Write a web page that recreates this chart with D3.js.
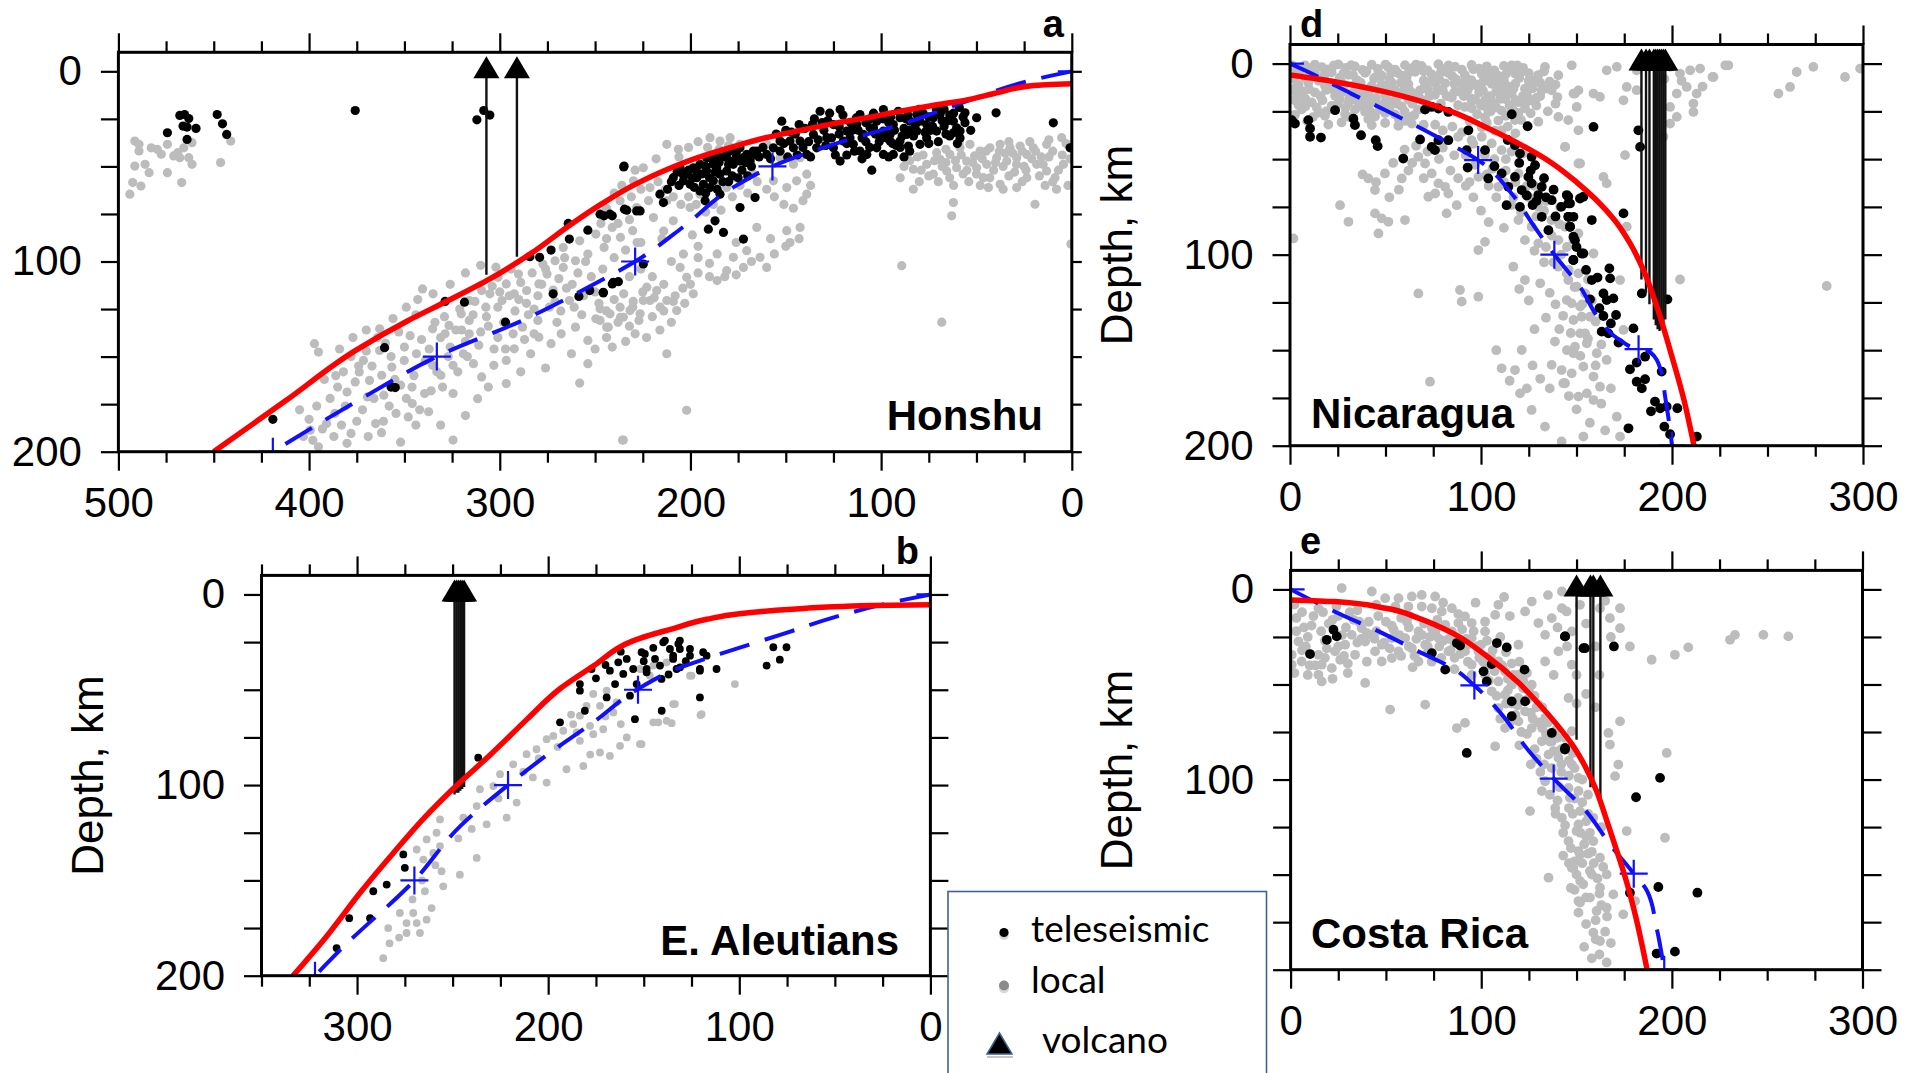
<!DOCTYPE html>
<html>
<head>
<meta charset="utf-8">
<script src="https://cdn.jsdelivr.net/npm/d3@7"></script>
<style>
  body { margin: 0; background: #fff; }
  svg { display: block; }
</style>
</head>
<body>
<svg id="fig" width="1907" height="1073"></svg>
<script>
// ---- data: [distance km, depth km] ----
// a: Honshu
const honshuSlab = [[0,6.6],[20,7.5],[38,11],[55,15],[73,18],[90,21],[108,24.5],[125,27.5],[142,31],[160,34.8],[177,39.5],[195,45],[212,51.5],[230,60],[247,70],[262,80],[284,96],[305,109],[327,120.5],[348,131],[376,147],[412,173],[450,200]]
const honshuModel = [[0,0],[20,4.4],[55,15.7],[90,28],[125,38.4],[157,50],[177.5,61],[204,82],[229,100],[247,110],[262,118],[286,130],[333,150],[369,170],[419,200]]
const honshuMarks = [[0,0],[157,50],[229,100],[333,150],[419,200]]
const honshuVolc = [[307,107],[291,97.5]]
const honshuLocal = [[491.4,36.7],[489.2,41.9],[482.8,40.2],[479.6,41],[477.5,43.6],[474.3,38.4],[471,44.5],[467.8,45.4],[465.7,40.2],[463.1,45.4],[461.4,48.9],[491.4,49.8],[486,48.9],[483.9,53.3],[474.3,53.3],[488.2,60.3],[492.5,58.5],[494,64.6],[466.8,58.5],[446.4,48],[441.1,36.7],[461.4,37.5],[489.2,38.4],[468.9,42.8],
  [340.5,114.4],[397.2,143.2],[395.1,147.6],[363,135.4],[373.7,158.1],[368.3,162.5],[361.9,159.8],[369.4,171.2],[360.8,170.3],[354.4,179.9],[345.9,174.7],[337.3,179],[348,181.7],[324.5,169.4],[311.6,172.1],[324.5,193.9],[335.2,154.6],[330.9,159.8],[324.5,154.6],[319.1,148.5],[313.8,153.7],[309.5,160.7],[303.1,154.6],[296.6,164.2],[292.4,145.9],[283.8,148.5],[279.5,139.8],[273.1,143.2],[267.8,138],[262.4,148.5],[258.1,163.9],[253.8,141.5],[243.1,134.5],[236.7,129.3],[230.3,124],[241,145],[288.1,134.5],[298.8,120.5],[305.2,117],[307.3,124],[296.6,111.8],[290.2,106.6],[285.9,115.3],[292.4,117],[279.5,111.8],[275.2,106.6],[266.7,103.1],[260.3,99.6],[253.8,96.1],[245.3,92.6],[236.7,87.3],[230.3,83.8],[241,82.1],[249.6,85.6],[258.1,89.1],[266.7,92.6],[271,99.6],[277.4,101.3],[300.9,108.3],[309.5,115.3],[315.9,120.5],[320.2,127.5],[326.6,133.6],[335.2,135.4],[328.7,138],[343.7,148.5],[350.1,152],[356.6,155.5],[363,146.8],[371.5,152],[375.8,163.3],[380.1,168.6],[386.5,179.9],[390.8,185.2],[378,190.4],[395.1,197.4],[380.1,195.6],[399.4,188.7],[365.1,185.2],[339.4,169.4],[296.6,152],[253.8,153.7],[235.6,193.9],[260.3,134.5],[249.6,130.1],[263.5,120.5],[247.4,124.9],[282,125],[271,121],[287,141],[301,140],[316,138],[345,160],[352,165],[386,160],[405,178],
  [255,100],[259,106],[262,112],[266,98],[269,109],[272,115],[276,104],[280,118],[283,106],[286,122],[289,111],[292,126],[295,118],[298,132],[301,124],[304,113],[307,129],[310,137],[313,121],[316,131],[318,142],[321,125],[323,136],[326,145],[329,129],[331,140],[334,132],[337,146],[341,141],[344,128],[347,139],[350,145],[353,137],[357,150],[360,143],[364,140],[367,155],[370,147],[374,155],[378,150],[382,158],[385,166],[389,172],[392,162],[396,176],[400,183],[403,192],[383,186],[372,178],[362,190],[352,195],[344,186],[331,186],[318,181],[306,166],[289,158],[276,156],[268,126],[250,116],[246,104],[240,98],[234,94],[228,90],[244,140],[250,146],[257,128],[280,131],[294,104],[302,103],
  [252,108],[256,118],[261,124],[265,114],[270,132],[274,124],[278,112],[282,138],[285,128],[290,120],[293,138],[297,146],[300,116],[303,146],[306,134],[311,144],[314,128],[317,150],[320,136],[322,158],[327,150],[330,166],[333,158],[336,168],[339,152],[342,178],[346,166],[349,172],[355,162],[358,176],[361,184],[366,172],[369,192],[375,184],[381,176],[387,192],[393,188],[398,194],[384,146],[377,140],[370,136],[356,130],[349,124],[343,120],[335,117],[326,112],[318,106],[310,102],[232,108],[226,104],[220,108],[214,112],[208,118],[203,122],[210,132],[216,136],[223,140],[229,138],[234,142],[210,100],[196,98],[190,101],[182,108],[176,107],[168,100],[156,96],[150,92],[143,88],[158,88],
  [212.4,38.4],[206.3,41],[189.7,34.9],[184.5,36.7],[179.2,34.9],[174,38.4],[224.7,50.7],[229.9,57.6],[221.2,61.1],[236.9,68.1],[228.2,71.6],[212.4,68.1],[209,78.6],[219.4,76.9],[200.2,71.6],[195,64.6],[186.2,61.1],[181,61.1],[177.5,55.9],[167,54.1],[156.5,57.6],[149.5,61.1],[144.3,57.6],[139,64.6],[165.2,82.1],[149.5,83.8],[142.5,82.1],[147.8,90],[177.5,97.8],[170.5,94.3],[163.5,97.8],[160,103.1],[172.2,103.1],[181,104.8],[203.7,96.1],[205.4,103.1],[202,108.3],[198.5,117],[207.2,125.8],[212.4,120.5],[217.7,115.3],[222.9,113.5],[215.9,124],[221.2,120.5],[226.4,127.5],[231.7,125.8],[236.9,124],[242.2,127.5],[247.4,131],[243.9,134.5],[235.2,129.3],[224.7,120.5],[212.4,148.5],[202,178.2],[235.2,193.9],[89.2,102.2],[68.2,131.9],[63,76],[62.1,69],[0.5,90.8],[160,38.4],[153,45.4],[146,48.9],[142.5,45.4],[139,54.1],[168.7,47.2],[215,88],[226,90],[199,86],
  [240,64],[236,60],[231,66],[226,62],[222,68],[217,58],[213,62],[209,66],[205,70],[201,66],[197,70],[192,74],[188,70],[184,73],[178,66],[174,60],[170,64],[165,58],[160,62],[156,66],[151,70],[146,72],[141,68],[137,60],[244,72],[238,80],[232,78],[214,84],[196,92],[186,96],[176,90],[206,45],[201,40],[196,37],[191,40],[185,41],[180,39],[218,46],[229,52],[247,80],[244,88],
  [240,120],[235,117],[230,121],[225,116],[219,119],[214,126],[209,121],[204,114],[238,132],[232,134],[227,131],[220,129],[244,126],[248,122],[200,112],[196,106],[190,108],[186,110],
  [83.1,51.5],[76.1,48.9],[69.1,46.3],[63.9,43.7],[58.6,40.2],[53.4,38.4],[48.1,41.9],[42.9,40.2],[37.6,38.4],[32.4,40.2],[27.1,39.3],[20.2,40.2],[13.2,38.4],[5.3,34.9],[72.6,54.1],[65.6,52.4],[60.4,50.7],[55.1,47.2],[49.9,50.7],[44.6,48.9],[39.4,45.4],[34.1,47.2],[28.9,45.4],[23.6,43.7],[18.4,48.9],[13.2,52.4],[8.8,55.9],[4.4,48.9],[46.4,55.9],[37.6,59.4],[28.9,61.1],[19.3,69.9],[83.1,62],[70.9,42.8],[43.7,61.1],[23.6,55.9],[78,44],[51,44.5],[35,43],[25,50],[16,45],[10,42],[30,53],[57,54],[66,48],[41,52],[8,62],[2,60],
  [88,50],[85,47],[81,45],[79,52],[75,55],[72,47],[68,50],[64,56],[61,47],[58,44],[55,52],[52,48],[50,54],[47,46],[45,42],[43,56],[40,48],[38,42],[36,50],[33,55],[31,43],[29,49],[26,42],[24,52],[21,46],[19,42],[17,55],[15,49],[12,45],[10,58],[7,52],[5,44],[3,38],[1,46],[62,60],[54,58],[48,60],[36,62],[26,58],[14,60],[70,58],[80,58],[90,56],[33,37],[22,37],[12,36],[59,37],[66,41]]
const honshuTele = [[474.3,32.3],[467.8,23.2],[465.3,22.7],[463.1,24.8],[466.1,28.8],[464,29.3],[459.3,30],[464,35.8],[448.2,22.7],[445.4,27.6],[443.2,33.2],[375.8,20.6],[312,25.5],[308.4,20.6],[305.2,23],[235,50.3],[264.1,80],[253.8,83.5],[263.5,88.2],[273.1,94],[284.2,97.5],[279.1,97.8],[245.3,76],[241,76],[234.6,72.5],[228.2,73.4],[237.8,110.6],[241,111.8],[245.7,116.5],[252.8,115.3],[258.5,118.4],[272,117],[318.5,121.4],[328.7,121],[297,131.9],[360.4,145.3],[357,166],[354.8,166.3],[419,183],
  [132,21],[121.5,20.1],[111.1,22.7],[98.8,20.1],[56,21.8],[49.9,24.4],[39.7,21.8],[9.7,27.1],[0.9,40.2],[104.9,52],[98.8,43.7],[85.7,39.3],[62.1,32.3],[58.6,35],[125,28],[118,31.4],[128.5,34.9],[133.8,40.2],[139,43.7],[125,40.2],[121.5,47.2],[114.6,38.4],[109.3,33.2],[104,29.7],[98.8,31.4],[93.6,28],[90.1,24.4],[84.8,26.2],[81.3,31.4],[76.1,28],[72.6,24.4],[69.1,22.7],[65.6,26.2],[70.9,31.4],[76.1,35],[79.6,38.4],[90.1,36.7],[95.3,36.7],[102.3,40.2],[107.5,43.7],[111.1,41.9],[93.6,43.7],[86.6,33.2],[81.3,22.7],[62.1,26.2],[60.4,29.7],[58.6,31.4],[79.6,26.2],[95.3,33.2],[102.3,26.2],[105.8,29.7],[112.8,28],[116.3,35],[119.8,36.7],[135.5,33.2],[142.5,36.7],[146,40.2],[152.1,26.2],[147.8,36.7],[153,36.7],[156.5,40.2],[160,43.7],[166.1,66.4],[174,71.6],[184.5,64.6],[192.3,68.1],[190.6,83],[187.1,78.6],[182.7,84.7],[172.2,88.2],
  [205.4,50.7],[202,54.1],[198.5,50.7],[195,48.9],[191.5,45.4],[188,48.9],[184.5,45.4],[181,43.7],[177.5,41.9],[174,40.2],[170.5,43.7],[167,41.9],[168.7,47.2],[174,47.2],[177.5,48.9],[181,52.4],[184.5,54.1],[188,57.6],[193.2,59.4],[196.7,55.9],[200.2,59.4],[203.7,57.6],[191.5,52.4],[186.2,50.7],[179.2,47.2],[172.2,45.4],[195,62.9],[189.7,61.1],[209,55.9],[216,64.6],[214.2,69],[234.8,49.8],[226.4,73.4],[233.4,73],[242.2,75.1],[247.4,75.1],[245.7,116.2],[240.4,110.9],[224.7,101.3],[165.2,41.9],
  [100,35],[88,30],[83,34],[74,31],[67,29],[92,39],[108,37],[115,31],[122,33],[130,31],[136,28],[113,24.5],[106,25],[95,24],[86,23],[78,22],[67,20],[62,22],[56,27],[53,31],[128,26],[140,30],[145,33],[150,31],
  [57,24],[59,19],[64,23],[66,33],[68,26],[71,20],[73,29],[75,24],[77,32],[80,20],[82,28],[85,31],[87,25],[89,34],[91,21],[93,31],[94,38],[96,27],[97,35],[99,25],[101,37],[103,33],[104,22],[106,40],[108,27],[110,35],[112,31],[114,42],[116,27],[118,38],[120,23],[122,29],[124,44],[126,35],[127,22],[129,39],[131,27],[133,36],[135,25],[137,45],[138,37],[141,40],[143,28],[144,44],[147,32],[149,45],[151,38],[153,42],[155,33],[158,46],[162,40],[164,45],[85,42],[90,40],[75,38],[70,37],[64,34],[60,38],[88,45],[96,45],[110,46],[118,44],
  [166,44],[168,50],[171,48],[173,52],[176,45],[178,55],[180,49],[183,58],[185,48],[187,53],[189,46],[190,56],[192,50],[194,54],[197,52],[199,56],[201,52],[204,54],[207,53],[206,60],[198,61],[192,64],[186,62],[180,58],[175,56],[170,55],[182,45],[176,43],[188,44],[210,58],[212,62]]

// b: E. Aleutians
const aleutSlab = [[0,5.4],[30,5.8],[47,6.3],[65,7.2],[82,8.4],[100,10.1],[117,13],[135,18],[152,23],[156,24.5],[176,37.3],[194,49.6],[211,65.4],[229,82.9],[250,102.2],[264,116.3],[281,135.6],[298.5,156.6],[316,179.4],[333.5,200]]
const aleutModel = [[0,0],[19.5,4],[47,11],[77,20.7],[110,31.2],[132.8,39.1],[153,49.6],[176.4,67.1],[194,79.4],[221,100],[246,121.5],[270,150],[307,184.7],[322,200]]
const aleutMarks = [[0,0],[153,50],[221,100],[270,150],[322,200]]
const aleutVolc = [[244,101],[245,102],[246,103],[247,104],[248,104],[249,105]]
const aleutLocal = [[286.3,190.8],[283.7,175],[277.6,167.1],[274.1,172.4],[270.6,167.1],[274.1,177.6],[268.8,172.4],[267.1,177.6],[263.6,170.6],[261,164.5],[264.5,155.7],[254.9,153.1],[255.8,145.2],[246.2,147],[237.4,138.2],[268.8,133.8],[263.6,128.5],[258.4,125],[256.6,132],[265.3,139.1],[260.1,135.6],[256.6,118],[244.4,117.1],[232.2,120.6],[221.7,117.1],[237.4,111],[235.7,102.2],[228.7,100.5],[225.2,94.3],[218.3,89.1],[216.5,109.2],[211.3,83.8],[206.1,81.2],[200.8,75.9],[197.3,74.2],[192.1,71.5],[186.9,68],[183.4,63.6],[178.1,68.9],[176.4,73.3],[172.9,58.4],[179.9,58.4],[176.4,52.2],[169.4,50.5],[164.2,56.6],[172.9,82.9],[167.7,84.7],[162.4,79.4],[158.9,75],[181.6,90],[190.4,91.7],[200.8,98.7],[152,78.5],[145,67.1],[138,66.3],[134.6,57.5],[119.7,62.8],[146.8,42.6],[141.5,37.3],[125.8,42.6],[165.9,61.9],[185.1,72.4],[183.4,76.8],[171.2,70.7],[152,39.1],[145,37.3],[138.1,35.6],[125,42.6],[102.3,47],[133.7,57.5],[120.3,63.3],[142.4,67.1],[135.4,67.5],[151.1,78.5],[271,160],[266,150],[259,142],[247,128],[240,123],[226,107],[213,93],[205,86],[195,80],[188,63],[170,64],[162,68],[178,84],[208,96],[283,183],[278,180]]
const aleutTele = [[310.7,185.5],[304.1,169.8],[293.2,169.8],[291.5,155.7],[284.5,152.2],[275.8,136.4],[275,143.4],[236.6,85.6],[193.8,67.1],[183.4,47],[183.4,50.5],[180.8,61],[177.3,39.1],[169.4,54],[167.7,40],[163.3,35.6],[160.7,41.7],[158.9,33.8],[157.2,53.1],[155.5,39.1],[153.7,47],[151.1,30.3],[148.5,39.1],[154.6,65.4],[144.1,33.8],[140.6,61],[138.9,24.2],[134.6,32.1],[131.9,25.9],[131,38.2],[125.8,28.6],[120.6,39.1],[120.6,54],[118.9,30.3],[149.4,31.2],[139.8,25.1],[136.3,28.6],[131.1,24.2],[131.1,28.6],[134.6,33.8],[132.8,39.1],[141.5,37.3],[148.5,40.8],[140.7,44.3],[125.8,32.1],[117.1,32.1],[111.9,39.1],[120.6,40],[85.7,37.3],[82.2,27.7],[75.3,27.7],[78.8,34.2],[145,28],[162,30],[170,37],[175,44],[165,47],[150,35],[128,35],[137,42]]

// d: Nicaragua
const nicSlab = [[0,6],[24,9.6],[50,14.8],[67,19.2],[85,25.3],[102,33],[120,42],[137,52],[150,62],[160,71],[170,82],[178,94],[185,108],[192,127],[199,150],[206,175],[211.5,200]]
const nicModel = [[0,0],[15,7],[32,15.7],[50,24.4],[67,33.1],[85,42.7],[98.5,50.5],[116,68],[128,85.4],[138.4,100],[152,117],[162.3,134.2],[172.8,144.7],[182.5,149.5],[188,150.5],[194,160],[196.4,174.3],[199,191.7],[200,200]]
const nicMarks = [[0,0],[98.5,50.5],[138.4,100],[182.5,149.5],[200,200]]
const nicVolc = [[184,113],[186.4,120],[188.2,126],[190.5,134],[191.5,137],[192.5,139],[193.5,140],[194.5,139],[195.5,137],[196.5,134]]
const nicLocal = [[7.9,0.9],[16.6,1.8],[25.3,0.4],[34,1.5],[42.8,0.6],[51.5,1.9],[60.2,0.8],[68.9,1.2],[77.7,0.3],[86.4,1.6],[95.1,0.7],
  [13.1,5.2],[21.8,4.6],[30.6,5.9],[39.3,4.8],[48,6.2],[56.7,5.1],[65.5,4.3],[74.2,5.7],[82.9,4.9],[91.6,6.1],[100.4,5.3],[109.1,6.4],
  [4.4,11.2],[9.6,10.1],[18.3,11.5],[27,9.8],[34,10.9],[42.8,11.6],[53.2,9.9],[62,10.8],[70.7,11.9],[81.2,10.3],[89.9,11.1],[98.6,12.4],[105.6,10.6],[114.3,12],[123,13.1],
  [6.1,16.2],[13.1,15.1],[23.6,16.8],[32.3,15.4],[41,14.9],[49.8,16.6],[58.5,15.2],[67.2,17.1],[75.9,16.3],[84.7,17.8],[95.1,18.3],[103.8,17.2],[112.6,18.6],[119.6,20.1],[126.5,19.2],
  [4.4,21.5],[11.4,20.3],[21.8,22.1],[30.6,20.6],[41,21.7],[49.8,20.2],[58.5,22.4],[95.1,23.4],[102.1,22.2],[110.8,24.6],[119.6,25.8],
  [2.6,26.8],[14.9,25.6],[18.3,27.3],[28.8,26.4],[39.3,25.2],[44.5,27.7],[49.8,25.9],[55,26.6],[62,27.9],[102.1,28.2],[109.1,29.8],[130,30.4],
  [20.1,31.9],[27,30.8],[42.8,32.2],[49.8,31.1],[56.7,32.6],[63.7,31.4],[100.4,33.3],[107.3,35.1],
  [3,3],[11,2.5],[20,3],[29,2.2],[38,3.3],[46,2.8],[55,3.1],[64,2.4],[72,3.5],[81,2.9],[90,3.2],[99,2.7],[107,3.6],[115,3],[122,2.2],
  [2,8],[8,7.5],[17,8.2],[26,7.4],[35,8.6],[44,7.8],[52,8.4],[61,7.6],[70,8.8],[78,7.9],[87,8.3],[95,8.7],[104,8.1],[112,8.9],[120,7.6],[128,8.8],[136,9.5],
  [1,14],[10,13.4],[19,13.8],[28,13.2],[37,14.2],[46,13.5],[55,13.9],[63,14.4],[72,13.6],[80,14.1],[89,14.8],[99,15.2],[108,14.6],[116,15.7],[124,16.3],[131,17],[140,17.5],
  [2,19],[8,18.4],[17,19.2],[26,18.7],[35,19.3],[45,18.1],[54,19.6],[62,18.8],[71,20.6],[79,21],[88,21.8],[106,20.7],[115,21.8],[123,23.4],
  [6,24],[23,23.3],[34,24.1],[52,23.6],[60,25],[67,24.2],[98,26.5],[113,27.3],[121,29.5],[126,26],[135,25],[139,21],
  [9,30],[34,31.7],[60,30],[70,32],[94,30],[103,31],[114,33],[118,36.5],
  [5,5.5],[15,9],[24,12.5],[33,6],[42,17.5],[51,12],[59,6.5],[68,14],[76,10],[85,6.6],[93,14],[101,9.6],[110,12.5],[118,10.5],[127,13],[133,4],[139,11],[4,17],[14,23],[25,21],[36,22.4],[47,24],[57,29],[64,21],[31,28],[41,29],[12,28],[105,25],[117,24.5],[129,22],[137,14],[131,10],[125,5],[119,1],[112,1.2],[103,1.4],
  [1,1],[6,2],[13,0.5],[18,6],[23,1],[28,5],[32,0.8],[37,10],[40,4],[45,7],[50,0.5],[53,5],[58,10],[62,5],[66,0.5],[70,4],[74,9.5],[79,4.5],[83,1],[86,10.5],[92,9],[96,3],[98,11],[104,4],[108,10],[113,5.5],[117,13],[121,4.5],[125,9],[130,6],[134,13],[3,12.5],[7,14.5],[16,17],[21,13],[27,15],[31,18],[36,13],[39,17],[44,20],[48,11],[51,19],[56,17.5],[60,12],[65,16.5],[69,19],[73,17],[77,13],[82,17],[86,15],[91,17],[94,12],[97,19],[101,14],[105,17],[110,18.5],[114,16],[118,19],[122,17],[8,22.5],[19,25],[29,23],[38,21],[42,25],[48,22],[56,21],[65,27],[100,22],[108,23],[116,25],[124,20],[129,18],
  [85,33],[90,36],[96,42],[102,48],[107,50],[113,56],[118,62],[124,64],[92,48],[97,53],[103,58],[80,35],[76,32],[116,46],[122,47],
  [49.7,57.5],[41,60.1],[44.5,66.2],[58.5,60.1],[26.2,74.1],[30.6,82.8],[44.5,78.4],[48,81],[51.5,82.8],[60.2,81.9],[46.3,88.9],[1.8,91.5],[67.2,120.3],[89,118.5],[89.9,124.6],[98.6,122],[72.4,69.7],[82.9,68],[87.3,74.1],[82,78.4],[67.2,48.8],[70.7,52.3],[74.2,57.5],[77.7,62.7],[81.2,64.5],[60,45],[64,52],
  [66,43],[72,46],[78,50],[84,56],[88,60],[92,64],[70,60],[76,68],[86,48],[80,44],[62,56],[54,52],[57,66],[52,70],[45,62],[38,58],[96,70],[100,77],[104,83],[94,62],
  [88.1,38.3],[95.1,40.1],[100.4,38.3],[105.6,41.8],[110.8,45.3],[98.6,59.3],[109.1,64.5],[119.6,57.5],[123,68],[130,75],[119.6,81.9],[126.5,85.4],[137,81.9],[140.5,92.4],[130,94.1],[123,92.4],[140.5,106.3],[145.7,113.3],[151,109.8],[154.5,120.3],[147.5,125.5],[152.7,132.5],[154.5,141.2],[149.2,148.2],[138.7,145.5],[137,157.7],[142.2,160.4],[147.5,162.1],[121.3,149.9],[110.8,159.5],[117.8,160.4],[144,167.3],[151,174.3],[126.5,181.3],[133.5,190],[142.2,197.8],[73.3,166.5],[120.4,172.6],[116.9,106.3],[123,113.3],[102.1,93.3],[98.6,97.6],[144,85.4],[151,88.9],[113,50],[106,55],[116,74],[128,64],[134,72],[112,86],[133,104],[128,98],[136,120],[143,132],[131,115],
  [104,64],[108,70],[112,62],[117,70],[121,78],[125,70],[129,80],[133,77],[137,90],[141,84],[145,96],[134,96],[138,104],[142,100],[146,108],[149,117],[153,126],[156,113],[158,124],[160,135],[156,144],[160,158],[163,147],[152,153],[147,141],[141,139],[139,126],[145,150],[150,181],[146,174],[157,188],[165,192],[163,178],[168,170],[136,170],[131,165],[127,158],[124,170],[115,166],[108,150],[128,139],[134,133],[120,118],[125,124],
  [151,14],[147.5,0.9],[133.5,1.7],[140.5,6.1],[116.1,0.9],[117.8,5.2],[106.5,6.1],[131.8,14],[126.5,19.2],[140.5,27.9],[145.7,29.6],[151,34.9],[144,43.6],[151,52.3],[149.2,15.7],[110.8,15.7],[102.1,19.2],[117.8,29.6],[110.8,34.9],[103.8,24.4],[95.1,19.2],[91.6,22.7],
  [171.1,1.7],[176.3,12.2],[181.5,3.5],[174.6,19.2],[199,1.7],[204.2,5.2],[209.5,3.5],[214.7,2.6],[207.7,12.2],[212.9,15.7],[211.2,20.9],[202.5,15.7],[199,22.7],[202.5,27.9],[199,31.4],[211.2,25.3],[221.7,7],[229.5,0.9],[195.5,38.3],[165.8,3.5],[158.9,15.7],[162.3,17.4],[150.1,22.7],[148.4,15.7],[181.5,13.9],[205,9],[216,12],[196,8],
  [255.7,15.7],[261.8,12.2],[265.3,4.4],[274,1.7],[290.6,7],[298.5,2.6],[281,116.4],[204.2,113],[227.9,0.9],[221.2,7],
  [144,43.6],[151.9,52.3],[164.1,59.3],[165.8,62.7],[175.4,47.9],[176.3,85.4],[172.8,113.3],
  [141.4,75],[148.4,92.4],[158.9,99.4],[144.9,109.8],[150.1,116.8],[144.9,123.8],[151.9,127.2],[157.1,132.5],[148.4,134.2],[151.9,141.2],[155.4,146.4],[148.4,151.6],[160.6,151.6],[153.6,158.6],[165.8,155.1],[158.9,163.8],[155.4,172.6],[162.3,169.1],[158.9,176.1],[171.1,184.8],[153.6,195.2],[172.8,195.2],[143.1,167.3],[174.6,139.4]]
const nicTele = [[0.9,29.6],[2.6,31.4],[9.6,29.6],[10.5,34],[10.5,38.3],[16.2,38.7],[23.6,24.4],[33.2,28.8],[34,32.2],[37.2,37.5],[44.9,40.1],[45.9,43.2],[59.3,49.7],[68.1,39.7],[70.7,24.1],[74.2,22.7],[77.7,23.5],[82.9,25.3],[74.2,43.6],[75.9,45.3],[77.7,40.1],[82.9,40.1],[93.4,34.9],[92.5,45.3],[93,54.4],[102.1,45.3],[107,53.7],[103.8,60.1],[110.8,57.5],[116.1,26.5],[124.4,32.8],[117.8,42.7],[120.4,47.1],[117.8,59.3],[114.3,64.5],[121.3,66.2],[126.5,48.8],[128.3,53.2],[124.8,59.3],[126.5,62.7],[131.8,64.5],[130,68.8],[137,71.5],[113.4,74.1],[120.4,75],[131.8,80.2],[135.3,87.2],[145.7,69.7],[145.7,73.2],[145.7,80.2],[146.6,85.4],[151.8,70.6],[149.2,92.4],[148.3,102.8],[152.7,99.4],
  [158.9,33.1],[182.4,34.9],[183.3,43.6],[144.9,68.8],[146.6,73.2],[153.6,69.7],[145.8,80.2],[148.4,80.2],[146.6,85.4],[148.4,90.6],[158,81.9],[174.6,78.4],[153.6,99.4],[148.4,102.8],[167.2,107.2],[167.6,112.4],[158,113.3],[157.1,123.4],[164.1,120.3],[169.3,122.9],[165.8,123.8],[164.1,132.1],[170.7,131.6],[163.2,140.3],[166.7,141.2],[179.8,138.6],[184.2,120.3],[197.6,123.4],[185.9,153.4],[181.5,156.5],[181.5,166.5],[185.9,165.2],[184.2,170],[191.1,176.9],[193.8,180.4],[197.2,179.5],[202.8,180.4],[177.2,190.9],[213,195.2],[194.6,161.2],
  [114,40],[120,52],[126,56],[133,60],[138,66],[142,75],[139,80],[134,70],[129,72],[124,69],[127,74],[150,96],[155,108],[161,112],[162,128],[168,136],[172,146],[178,160],[189,182],[196,190],[199,194]]

// e: Costa Rica
const crSlab = [[0,5.5],[23,6.4],[50,9.9],[67,15.1],[85,23],[102,34.4],[119.5,49],[130,60],[140,71.5],[148,82],[155,94],[160.5,106],[165,119],[169.3,132],[176.3,154],[181,172],[187,200]]
const crModel = [[0,0],[23,11.6],[50,23.9],[67,32.6],[85,41.4],[96.4,50.5],[111,66],[125,85],[138,99.5],[155,116.6],[167.5,134],[180,149.5],[187,158.6],[192,178],[196,200]]
const crMarks = [[0,0],[96.4,50.5],[138,99.5],[180,149.5],[196,200]]
const crVolc = [[150,79],[157.3,104],[158.8,104],[162.5,113]]
const crLocal = [[26.8,-0.7],[42.6,1.1],[49.6,4.6],[56.6,4.6],[63.6,3.7],[68.8,2.9],[75.8,3.7],[54.8,9.9],[61.8,9],[68.8,9],[74.1,9.9],[79.3,11.6],[84.6,9.9],[91.5,14.2],[95,17.7],[14.6,9.9],[4.1,27.4],[0.6,34.4],[0.6,39.6],[5.8,37.9],[14.6,34.4],[14.6,44.9],[16.3,48.4],[21.6,41.4],[23.3,32.6],[28.6,29.1],[33.8,34.4],[32.1,23.9],[37.3,20.4],[39.1,27.4],[42.6,23.9],[44.3,32.6],[47.8,29.1],[47.8,37.9],[53.1,25.6],[53.1,36.1],[56.6,32.6],[60.1,25.6],[63.6,30.9],[67.1,22.1],[67.1,37.9],[70.6,29.1],[74.1,20.4],[77.6,25.6],[81.1,18.6],[84.6,22.1],[88,17.7],[82.8,32.6],[91.5,32.6],[95,25.6],[98.5,32.6],[102,22.1],[109,37.9],[112.5,43.1],[109,48.4],[116,50.1],[119.5,44.9],[105.5,53.6],[112.5,55.4],[109,62.4],[119.5,57.1],[126.5,50.1],[123,64.1],[130,60.6],[119.5,69.4],[112.5,72.9],[126.5,72.9],[133.5,67.6],[131.8,79.9],[135.3,86.9],[140.5,88.6],[147.5,74.6],[147.5,92.1],[133.5,100.9],[131.8,106.1],[145.8,104.4],[151,99.1],[138.8,114.9],[142.3,120.1],[151,123.6],[145.8,132.4],[151,137.6],[147.5,146.4],[151.9,153.4],[151,163.9],[135.3,151.6],[125.6,116.6],[107.3,82.5],[91.5,70.2],[87.2,72.9],[70.6,60.6],[52.2,63.2],[39.1,49.2],[16.3,39.6],[109,8.1],[107.3,13.4],[126.5,6.4],[123,11.6],[130,17.7],[133.5,23.9],[137,15.1],[142.3,9.9],[140.5,32.6],[133.5,37.9],[147.5,22.1],[147.5,39.6],[145.8,57.1],[142.3,1.1],[119.5,29.1],[95,39.6],[102,44.9],
  [8,30],[10,40],[19,31],[26,37],[30,44],[35,28],[44,26],[58,35],[62,20],[72,33],[78,30],[86,28],[93,38],[100,29],[104,40],[114,47],[122,52],[128,56],[116,60],[124,76],[129,89],[136,80],[142,96],[137,94],[146,84],[140,111],[148,118],[143,128],[155,130],[149,143],[156,139],[147,157],
  [3,15],[7,20],[12,14],[16,22],[20,18],[25,14],[29,20],[33,16],[37,26],[41,17],[45,22],[50,17],[54,21],[58,15],[62,30],[66,26],[70,18],[73,25],[77,16],[80,27],[84,32],[87,26],[90,21],[93,29],[96,22],[99,36],[103,27],[106,32],[110,25],[113,33],[116,39],[120,38],[124,44],[28,35],[40,38],[52,31],[64,41],[74,38],[86,36],[18,27],[9,25],[3,22],[55,9],[45,8],[35,11],[24,9],[62,14],[80,7],[88,13],[102,17],[115,14],[112,4],[97,7],
  [2,8],[6,12],[11,19],[17,12],[22,16],[27,24],[31,12],[36,17],[40,23],[46,14],[49,28],[53,19],[57,24],[61,17],[65,35],[69,24],[72,30],[76,22],[79,36],[83,26],[86,42],[89,34],[92,26],[95,45],[98,30],[101,38],[105,35],[107,43],[111,40],[114,53],[117,45],[119,61],[122,48],[125,53],[127,68],[129,62],[132,73],[135,70],[137,80],[139,74],[142,84],[144,78],[146,90],[149,94],[151,106],[153,112],[156,118],[154,134],[157,128],[159,144],[161,152],[163,166],[164,146],[160,184],[158,194],[154,188],[150,150],[146,144],
  [2,44],[6,32],[9,45],[13,40],[18,36],[22,47],[25,30],[30,39],
  [104,48],[108,56],[113,60],[118,66],[121,75],[126,65],[130,70],[134,76],[128,84],[133,92],[138,85],[142,92],[146,98],[136,108],[141,104],[146,115],[149,110],[152,128],[155,122],[147,136],[153,144],[158,150],[149,158],[155,162],[160,174],[155,176],[151,170],[165,180],[168,186],[162,192],[144,124],[139,118],[131,96],[126,92],[120,82],[115,70],[110,68],[124,58],[132,62],[140,78],[148,86],[153,100],[156,108],[143,140],[158,138],[163,125],[162,160],[166,172],
  [135,3],[140,20],[145,30],[150,45],[155,18],[160,30],[165,6],[168,25],[155,55],[160,62],[150,60],[138,45],[162,45],
  [144.8,11.6],[151.8,8.1],[162.3,9.9],[167.5,15.1],[172.8,20.4],[172.8,9.9],[178,30],[189.4,37],[201.6,34.4],[208.6,30.5],[230.5,26.5],[233.1,23.9],[248,23.9],[261.1,24.7],[172.8,69.4],[166.7,75.5],[167.5,81.6],[171.9,92.1],[170.2,98.2],[197.3,86],[176.3,127.1],[196.4,130.6],[146.5,109.6],[151.8,116.6],[158.8,120.1],[150,127.1],[158.8,132.4],[151.8,139.4],[162.3,141.1],[148.3,146.4],[157,148.1],[165.8,149.9],[153.5,155.1],[162.3,156.9],[169.3,160.4],[157,162.1],[165.8,167.4],[151.8,164.7],[160.5,169.1],[174.5,170.9],[158.8,180.5],[162.3,184.9],[165.8,196.2],[180.7,163.9]]
const crTele = [[10.2,34],[19,26.5],[22.5,21.2],[24.2,24.7],[74.1,33.5],[81.1,42.2],[87.2,28.2],[88.9,29.5],[92.4,86],[101.2,43.1],[102.9,48.4],[105.5,39.3],[108.2,28.2],[113.4,30.5],[116,58.9],[116,66.7],[123,58.9],[122.7,42.2],[137,75.5],[144,83.4],[144,24.7],[153.6,30.9],[143.9,24.7],[154.4,30.9],[169.6,30],[143.9,84.2],[193.8,99.1],[181.2,109.3],[192.9,156.5],[213.4,159.5],[178,159.5],[192,191.5],[201.6,190.5]]

// ---- layout ----
const svg = d3.select('#fig')
const font = "'Liberation Sans', Arial, Helvetica, sans-serif"

const panels = [
  {name: 'Honshu', letter: 'a', left: 118.4, right: 1071.8, top: 52.3, bottom: 451.7, km: [500, 0],
    slab: honshuSlab, model: honshuModel, marks: honshuMarks, volc: honshuVolc, local: honshuLocal, tele: honshuTele,
    r: 4.6, rightTick: 10, nameAt: [1043, 430, 'end'], letterAt: [1064, 37, 'end']},
  {name: 'E. Aleutians', letter: 'b', left: 261.5, right: 930.4, top: 575.4, bottom: 975.7, km: [350, 0],
    slab: aleutSlab, model: aleutModel, marks: aleutMarks, volc: aleutVolc, local: aleutLocal, tele: aleutTele,
    r: 3.9, rightTick: 18, nameAt: [899, 954.6, 'end'], letterAt: [919, 564, 'end'], depthLabel: 89},
  {name: 'Nicaragua', letter: 'd', left: 1290, right: 1863, top: 44.5, bottom: 445.7, km: [0, 300],
    slab: nicSlab, model: nicModel, marks: nicMarks, volc: nicVolc, local: nicLocal, tele: nicTele,
    r: 4.9, rightTick: 19, nameAt: [1311, 428, 'start'], letterAt: [1300, 37, 'start'], depthLabel: 1118},
  {name: 'Costa Rica', letter: 'e', left: 1290.6, right: 1862.5, top: 570.4, bottom: 969.7, km: [0, 300],
    slab: crSlab, model: crModel, marks: crMarks, volc: crVolc, local: crLocal, tele: crTele,
    r: 4.9, rightTick: 19, nameAt: [1311, 947.5, 'start'], letterAt: [1300, 554, 'start'], depthLabel: 1118}
]

const majorDepth = [0, 25, 50, 75, 100, 125, 150, 175, 200]

panels.forEach((p, i) => {
  const x = d3.scaleLinear().domain(p.km).range([p.left, p.right])
  const y = d3.scaleLinear().domain([-10, 200]).range([p.top, p.bottom])
  const kmMax = Math.max(p.km[0], p.km[1])
  const minorKm = d3.range(0, kmMax + 1, 25)
  const majorKm = minorKm.filter(d => d % 100 === 0)

  const g = svg.append('g').attr('class', 'panel')

  // clip to frame
  const clipId = 'clip' + i
  svg.append('clipPath').attr('id', clipId)
    .append('rect')
    .attr('x', p.left).attr('y', p.top)
    .attr('width', p.right - p.left).attr('height', p.bottom - p.top)

  const inner = g.append('g').attr('clip-path', `url(#${clipId})`)

  // local (grey) then teleseismic (black) events
  inner.selectAll('circle.local')
    .data(p.local)
    .enter().append('circle')
    .attr('class', 'local')
    .attr('cx', d => x(d[0]))
    .attr('cy', d => y(d[1]))
    .attr('r', p.r)
    .attr('fill', '#bcbcbc')

  inner.selectAll('circle.tele')
    .data(p.tele)
    .enter().append('circle')
    .attr('class', 'tele')
    .attr('cx', d => x(d[0]))
    .attr('cy', d => y(d[1]))
    .attr('r', p.r)
    .attr('fill', '#000')

  // volcano arrows
  const tipY = p.top + 4
  p.volc.forEach(v => {
    const vx = x(v[0])
    inner.append('line')
      .attr('x1', vx).attr('x2', vx)
      .attr('y1', y(v[1])).attr('y2', tipY + 16)
      .attr('stroke', '#111').attr('stroke-width', 2.4)
    inner.append('path')
      .attr('d', `M${vx},${tipY} L${vx + 13},${tipY + 22} L${vx - 13},${tipY + 22} Z`)
      .attr('fill', '#000')
  })

  // model curve (blue dashed) with + marks
  const line = d3.line().x(d => x(d[0])).y(d => y(d[1])).curve(d3.curveMonotoneY)
  inner.append('path')
    .datum(p.model)
    .attr('d', line)
    .attr('fill', 'none')
    .attr('stroke', '#1010ff')
    .attr('stroke-width', 4)
    .attr('stroke-dasharray', '31 16')

  inner.selectAll('path.mark')
    .data(p.marks)
    .enter().append('path')
    .attr('class', 'mark')
    .attr('d', d => `M${x(d[0]) - 14},${y(d[1])} h28 M${x(d[0])},${y(d[1]) - 14} v28`)
    .attr('stroke', '#1010ff')
    .attr('stroke-width', 2.2)

  // slab surface (red)
  inner.append('path')
    .datum(p.slab)
    .attr('d', line)
    .attr('fill', 'none')
    .attr('stroke', '#ff0000')
    .attr('stroke-width', 5.5)
    .attr('stroke-linejoin', 'round')

  // axes
  const styleAxis = sel => {
    sel.select('.domain').remove()
    sel.selectAll('line').attr('stroke', '#000').attr('stroke-width', 2.2)
    sel.selectAll('text').attr('font-size', 42).attr('font-family', font).attr('fill', '#000')
  }
  g.append('g').attr('transform', `translate(0,${p.bottom})`)
    .call(d3.axisBottom(x).tickValues(minorKm.filter(d => d % 100 !== 0)).tickSize(11).tickSizeOuter(0).tickFormat(''))
    .call(styleAxis)
  g.append('g').attr('transform', `translate(0,${p.bottom})`)
    .call(d3.axisBottom(x).tickValues(majorKm).tickSize(19).tickPadding(16).tickSizeOuter(0).tickFormat(d3.format('d')))
    .call(styleAxis)
  g.append('g').attr('transform', `translate(0,${p.top})`)
    .call(d3.axisTop(x).tickValues(minorKm.filter(d => d % 100 !== 0)).tickSize(11).tickSizeOuter(0).tickFormat(''))
    .call(styleAxis)
  g.append('g').attr('transform', `translate(0,${p.top})`)
    .call(d3.axisTop(x).tickValues(majorKm).tickSize(19).tickSizeOuter(0).tickFormat(''))
    .call(styleAxis)
  g.append('g').attr('transform', `translate(${p.left},0)`)
    .call(d3.axisLeft(y).tickValues(majorDepth).tickSize(17.5).tickPadding(19).tickSizeOuter(0)
      .tickFormat(d => d % 100 === 0 ? d : ''))
    .call(styleAxis)
  g.append('g').attr('transform', `translate(${p.right},0)`)
    .call(d3.axisRight(y).tickValues(majorDepth).tickSize(p.rightTick).tickSizeOuter(0).tickFormat(''))
    .call(styleAxis)

  // frame
  g.append('rect')
    .attr('x', p.left).attr('y', p.top)
    .attr('width', p.right - p.left).attr('height', p.bottom - p.top)
    .attr('fill', 'none').attr('stroke', '#000').attr('stroke-width', 3)

  // region name and panel letter
  g.append('text')
    .attr('x', p.nameAt[0]).attr('y', p.nameAt[1])
    .attr('text-anchor', p.nameAt[2])
    .attr('font-family', font).attr('font-weight', 'bold').attr('font-size', 42)
    .text(p.name)
  g.append('text')
    .attr('x', p.letterAt[0]).attr('y', p.letterAt[1])
    .attr('text-anchor', p.letterAt[2])
    .attr('font-family', font).attr('font-weight', 'bold').attr('font-size', 38)
    .text(p.letter)

  if (p.depthLabel) {
    const cy = (p.top + p.bottom) / 2
    g.append('text')
      .attr('transform', `translate(${p.depthLabel + 14},${cy}) rotate(-90)`)
      .attr('text-anchor', 'middle')
      .attr('font-family', font).attr('font-size', 44)
      .text('Depth, km')
  }
})

// ---- legend ----
const legend = svg.append('g')
legend.append('rect')
  .attr('x', 948).attr('y', 891.5).attr('width', 318.5).attr('height', 200)
  .attr('fill', '#fff').attr('stroke', '#3d6393').attr('stroke-width', 1.6)

const legendFont = "Lato, 'Open Sans', sans-serif"
legend.append('circle').attr('cx', 1004).attr('cy', 935).attr('r', 4.8).attr('fill', '#d4d4d4')
legend.append('circle').attr('cx', 1004).attr('cy', 932.5).attr('r', 4.6).attr('fill', '#000')
legend.append('circle').attr('cx', 1004).attr('cy', 988).attr('r', 5.2).attr('fill', '#d8d8d8')
legend.append('circle').attr('cx', 1004).attr('cy', 985.5).attr('r', 5).attr('fill', '#8a8a8a')
legend.append('path')
  .attr('d', 'M999.5,1033 L1012,1054 L987,1054 Z')
  .attr('fill', '#000').attr('stroke', '#3d6393').attr('stroke-width', 1.5)
legend.append('line').attr('x1', 987).attr('x2', 1013).attr('y1', 1057).attr('y2', 1057)
  .attr('stroke', '#c8c8c8').attr('stroke-width', 2)

legend.append('text').attr('x', 1031).attr('y', 941.5)
  .attr('font-family', legendFont).attr('font-size', 37).text('teleseismic')
legend.append('text').attr('x', 1031).attr('y', 992.7)
  .attr('font-family', legendFont).attr('font-size', 37).text('local')
legend.append('text').attr('x', 1042).attr('y', 1052.6)
  .attr('font-family', legendFont).attr('font-size', 37).text('volcano')
</script>
</body>
</html>
